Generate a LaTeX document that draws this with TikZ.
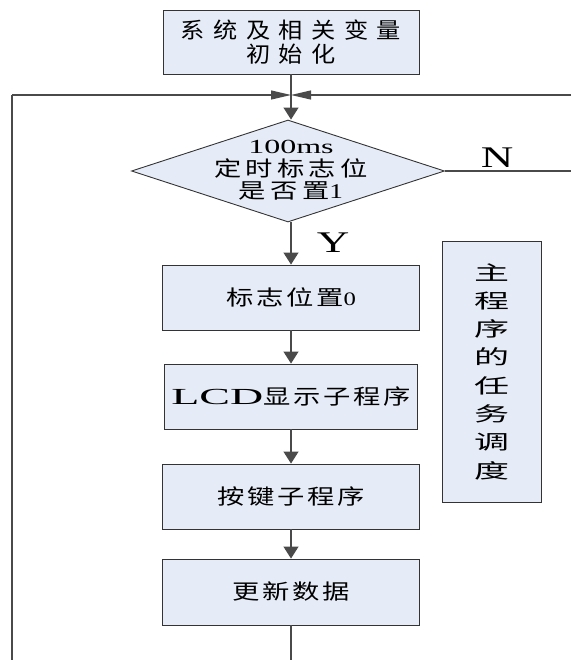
\documentclass[tikz,border=0pt]{standalone}
\usepackage{fontspec}
\setmainfont{Liberation Serif}
\newfontfamily\cjka[LetterSpace=35]{Noto Sans CJK SC}
\newfontfamily\cjkd[LetterSpace=16]{Noto Sans CJK SC}
\newfontfamily\cjkb[LetterSpace=10]{Noto Sans CJK SC}
\newfontfamily\cjkv{Noto Sans CJK SC}
\usetikzlibrary{arrows.meta,shapes.geometric}
\definecolor{boxblue}{HTML}{E6ECF7}
\definecolor{linegray}{HTML}{4A4A4A}
\newcommand{\wide}[2]{\scalebox{#1}[1]{#2}}
\tikzset{
  block/.style    = {draw=black!80, line width=0.9pt, fill=boxblue, rectangle,
                     inner sep=0pt, minimum width=257pt, minimum height=65pt, align=center},
  decision/.style = {draw=black!80, line width=0.9pt, fill=boxblue, diamond,
                     inner sep=0pt, minimum width=313pt, minimum height=102pt},
  flow/.style     = {draw=linegray, line width=1.1pt},
  sig/.style      = {flow, -{Triangle[length=12pt,width=15pt]}},
  meet/.style     = {flow, -{Triangle[length=20pt,width=9pt]}},
}
\begin{document}
\begin{tikzpicture}[x=1pt,y=-1pt,font=\fontsize{21}{28}\selectfont]
\useasboundingbox (0,0) rectangle (571,660);
% ---- main column ----
\node[block, minimum width=256pt, minimum height=64pt,
      font=\fontsize{22}{24.7}\selectfont] (init) at (291,42)
  {\wide{1.1}{\cjka 系统及相关变量}\\\wide{1.1}{\cjka 初始化}};
\node[decision] (dec) at (288,171) {};
\node[align=center, font=\fontsize{21}{22.5}\selectfont] (dectext) at (291,170.5)
  {\wide{1.6}{\fontsize{20}{22.5}\selectfont 100ms}\\\wide{1.3}{\cjkd 定时标志位}\\\wide{1.3}{{\cjkd 是否置}1}};
\node[block] (flag) at (291,297.5) {\wide{1.3}{{\cjkb 标志位置}{\fontsize{19}{28}\selectfont 0}}};
\node[block, minimum width=253pt] (lcd) at (291,396.5)
  {\wide{2.0}{\fontsize{23}{28}\selectfont LCD}\wide{1.3}{\cjkb 显示子程序}};
\node[block] (key) at (291,496.5) {\wide{1.3}{\cjkb 按键子程序}};
\node[block, minimum height=66pt] (upd) at (291,592) {\wide{1.3}{\cjkb 更新数据}};
% ---- side note ----
\node[block, minimum width=99pt, minimum height=261pt,
      font=\fontsize{20}{28.3}\selectfont] (task) at (491.5,371.5)
  {\wide{1.75}{\cjkv 主}\\\wide{1.75}{\cjkv 程}\\\wide{1.75}{\cjkv 序}\\\wide{1.75}{\cjkv 的}\\
   \wide{1.75}{\cjkv 任}\\\wide{1.75}{\cjkv 务}\\\wide{1.75}{\cjkv 调}\\\wide{1.75}{\cjkv 度}};
% ---- branch labels ----
\node[font=\fontsize{30}{30}\selectfont] (nlab) at (497,158) {\wide{1.5}{N}};
\node[font=\fontsize{30}{30}\selectfont] (ylab) at (333,243) {\wide{1.5}{Y}};
% ---- loop corners ----
\coordinate (tl) at (12,95);
\coordinate (tr) at (571,95);
\coordinate (junc) at (291,95);
\coordinate (nr) at (571,171);
\coordinate (bl) at (12,660);
\coordinate (bend) at (291,660);
% ---- connectors ----
\draw[sig] (init) -- (init |- dec.north);
\draw[meet] (tl) -- (junc);
\draw[meet] (tr) -- (junc);
\draw[flow] (dec.east) -- (nr);
\draw[sig] (dec.south -| flag) -- (flag);
\draw[sig] (flag) -- (lcd);
\draw[sig] (lcd) -- (key);
\draw[sig] (key) -- (upd);
\draw[flow] (upd) -- (bend);
\draw[flow] (tl) -- (bl);
\end{tikzpicture}
\end{document}
